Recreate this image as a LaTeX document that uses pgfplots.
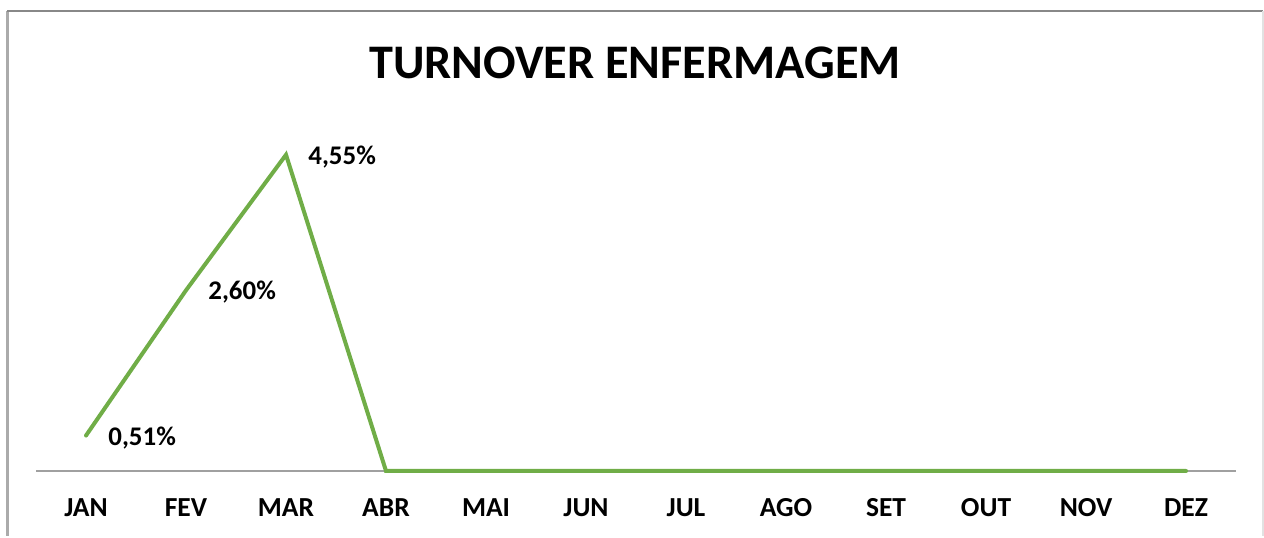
\documentclass[border=0pt]{standalone}
\usepackage{fontspec}
\setmainfont{Carlito}
\usepackage{pgfplots}
\pgfplotsset{compat=1.18}
\definecolor{linegreen}{HTML}{70AD47}
\definecolor{frameleft}{HTML}{ABABAB}
\definecolor{frametop}{HTML}{888888}
\definecolor{frameright}{HTML}{E2E2E2}
\definecolor{zeroline}{HTML}{A0A0A0}

\begin{document}
\begin{tikzpicture}[x=0.5bp,y=0.5bp]
% page = 1264 x 536 px, 1 px = 0.5bp
\path (0,0) rectangle (1264,536);
\draw[frameleft, line width=1.5bp] (7,0) -- (7,525);
\draw[frametop, line width=1bp] (7,525) -- (1263,525);
\draw[frameright, line width=1bp] (1263,525) -- (1263,0);

\node[font=\bfseries\fontsize{24.2}{29}\selectfont] at (635,473) {TURNOVER ENFERMAGEM};

\begin{axis}[
  at={(18bp,32.5bp)}, anchor=south west,
  scale only axis,
  width=600bp, height=173.75bp,
  xmin=-0.5, xmax=11.5, ymin=0, ymax=5,
  axis x line*=bottom,
  axis line style={zeroline, line width=0.8bp},
  hide y axis,
  xtick={0,...,11},
  xticklabels={JAN,FEV,MAR,ABR,MAI,JUN,JUL,AGO,SET,OUT,NOV,DEZ},
  major tick length=0pt,
  xticklabel style={font=\bfseries\fontsize{13.8}{16}\selectfont,
    text height=9.5bp, text depth=0.5bp, yshift=-9.5bp},
  clip=false,
]
\addplot[linegreen, line width=2bp, line cap=round, line join=miter] coordinates {
  (0,0.51) (1,2.60) (2,4.55) (3,0) (4,0) (5,0) (6,0) (7,0) (8,0) (9,0) (10,0) (11,0)
};
\addplot[draw=none, point meta=explicit symbolic, nodes near coords,
  nodes near coords style={anchor=west, xshift=11bp, yshift=-1bp,
    font=\bfseries\fontsize{13.5}{16}\selectfont, inner sep=0pt}] coordinates {
  (0,0.51)[0,51\%] (1,2.60)[2,60\%] (2,4.55)[4,55\%]
};
\end{axis}
\end{tikzpicture}
\end{document}
